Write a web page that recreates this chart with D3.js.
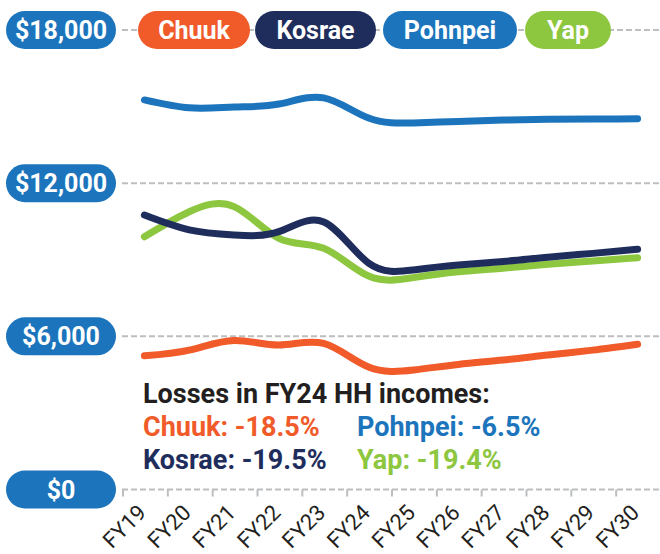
<!DOCTYPE html>
<html>
<head>
<meta charset="utf-8">
<script src="https://cdn.jsdelivr.net/npm/d3@7"></script>
<style>
  body { margin: 0; background: #fff; }
  text { font-family: Roboto, "Noto Sans", sans-serif; }
</style>
</head>
<body>
<div id="chart"></div>
<script>
// fiscal years on the x axis
var years = ["FY19", "FY20", "FY21", "FY22", "FY23", "FY24", "FY25", "FY26", "FY27", "FY28", "FY29", "FY30"];

// household income per state
var chuuk   = [5240, 5460, 5840, 5660, 5720, 4800, 4680, 4900, 5070, 5270, 5460, 5690];
var kosrae  = [10750, 10170, 9970, 10100, 10480, 8870, 8600, 8790, 8930, 9100, 9250, 9410];
var pohnpei = [15260, 14950, 14980, 15100, 15340, 14550, 14360, 14420, 14470, 14500, 14510, 14520];
var yap     = [9900, 10880, 11080, 9840, 9450, 8360, 8300, 8530, 8670, 8820, 8950, 9080];

var yTicks = [0, 6000, 12000, 18000];

var states = ["Chuuk", "Kosrae", "Pohnpei", "Yap"];
var lossText = ["Chuuk: -18.5%", "Kosrae: -19.5%", "Pohnpei: -6.5%", "Yap: -19.4%"];
var lossTitle = "Losses in FY24 HH incomes:";

(function () {
    var width = 660,
        height = 554;

    var colors = {
        Chuuk: "#f15a29",
        Kosrae: "#1f2d5c",
        Pohnpei: "#1c75bc",
        Yap: "#8dc63f"
    };
    var dark = "#231f20",
        grey = "#bcbec0";

    var svg = d3.select("#chart")
        .append("svg")
        .attr("width", width)
        .attr("height", height);

    var x = d3.scaleBand().domain(years).range([122, 660]);
    var y = d3.scaleLinear().domain([0, 18000]).range([489.5, 30]);

    // dashed grid lines
    svg.selectAll(".grid")
        .data(yTicks)
        .enter().append("line")
        .attr("class", "grid")
        .attr("x1", 122)
        .attr("x2", width)
        .attr("y1", function (d) { return y(d); })
        .attr("y2", function (d) { return y(d); })
        .attr("stroke", grey)
        .attr("stroke-width", 2)
        .attr("stroke-dasharray", "6,3");

    // small ticks under the zero line, at band edges
    svg.selectAll(".tick")
        .data(years)
        .enter().append("line")
        .attr("class", "tick")
        .attr("x1", function (d) { return x(d) + 1; })
        .attr("x2", function (d) { return x(d) + 1; })
        .attr("y1", y(0))
        .attr("y2", y(0) + 7)
        .attr("stroke", grey)
        .attr("stroke-width", 2);

    svg.selectAll(".xlabel")
        .data(years)
        .enter().append("text")
        .attr("class", "xlabel")
        .attr("transform", function (d) {
            return "translate(" + (x(d) + x.bandwidth() / 2 + 3) + "," + 514 + ") rotate(-45)";
        })
        .attr("text-anchor", "end")
        .attr("font-size", 22)
        .attr("fill", dark)
        .text(function (d) { return d; });

    // y axis pills
    var pills = svg.selectAll(".ypill")
        .data(yTicks)
        .enter().append("g")
        .attr("class", "ypill")
        .attr("transform", function (d) { return "translate(6," + (y(d) - 19) + ")"; });

    pills.append("rect")
        .attr("width", 110)
        .attr("height", 38)
        .attr("rx", 19)
        .attr("fill", colors.Pohnpei);

    pills.append("text")
        .attr("x", 55)
        .attr("y", 28)
        .attr("text-anchor", "middle")
        .attr("font-size", 25)
        .attr("font-weight", 700)
        .attr("fill", "#fff")
        .text(function (d) { return "$" + d3.format(",")(d); });

    // legend pills along the top
    var legendX = [138, 255, 383, 525],
        legendW = [112, 121, 134, 86];

    var legend = svg.selectAll(".lpill")
        .data(states)
        .enter().append("g")
        .attr("class", "lpill")
        .attr("transform", function (d, i) { return "translate(" + legendX[i] + "," + (y(18000) - 19) + ")"; });

    legend.append("rect")
        .attr("width", function (d, i) { return legendW[i]; })
        .attr("height", 38)
        .attr("rx", 19)
        .attr("fill", function (d) { return colors[d]; });

    legend.append("text")
        .attr("x", function (d, i) { return legendW[i] / 2; })
        .attr("y", 28)
        .attr("text-anchor", "middle")
        .attr("font-size", 25)
        .attr("font-weight", 700)
        .attr("fill", "#fff")
        .text(function (d) { return d; });

    // the lines
    var series = [
        { name: "Pohnpei", values: pohnpei },
        { name: "Chuuk", values: chuuk },
        { name: "Yap", values: yap },
        { name: "Kosrae", values: kosrae }
    ];

    var line = d3.line()
        .x(function (d, i) { return x(years[i]) + x.bandwidth() / 2; })
        .y(function (d) { return y(d); })
        .curve(d3.curveNatural);

    svg.selectAll(".series")
        .data(series)
        .enter().append("path")
        .attr("class", "series")
        .attr("d", function (d) { return line(d.values); })
        .attr("fill", "none")
        .attr("stroke", function (d) { return colors[d.name]; })
        .attr("stroke-width", 7)
        .attr("stroke-linecap", "round")
        .attr("stroke-linejoin", "round");

    // losses note
    svg.append("text")
        .attr("x", 143)
        .attr("y", 403)
        .attr("font-size", 27)
        .attr("font-weight", 700)
        .attr("fill", dark)
        .text(lossTitle);

    svg.selectAll(".loss")
        .data(lossText)
        .enter().append("text")
        .attr("class", "loss")
        .attr("x", function (d, i) { return i < 2 ? 143 : 357; })
        .attr("y", function (d, i) { return i % 2 === 0 ? 436 : 469; })
        .attr("font-size", 27)
        .attr("font-weight", 700)
        .attr("fill", function (d, i) { return colors[states[i]]; })
        .text(function (d) { return d; });
})();
</script>
</body>
</html>
